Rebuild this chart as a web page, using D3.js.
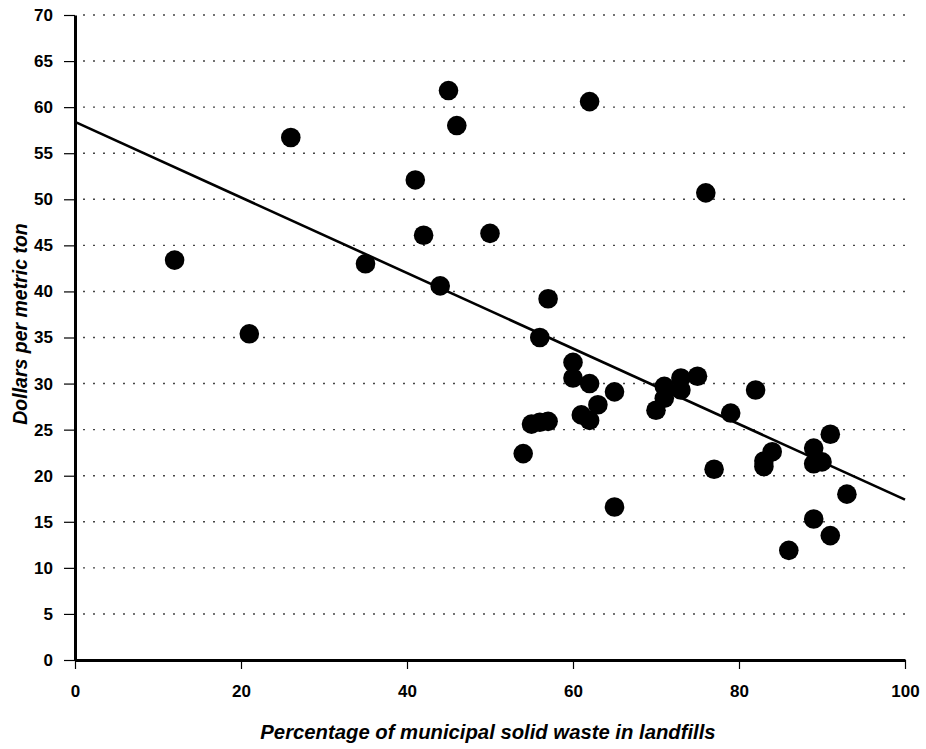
<!DOCTYPE html>
<html>
<head>
<meta charset="utf-8">
<script src="https://cdn.jsdelivr.net/npm/d3@7"></script>
<style>
  html, body { margin: 0; padding: 0; background: #fff; }
  svg { display: block; font-family: "Liberation Sans", Arial, sans-serif; }
</style>
</head>
<body>
<svg id="chart" width="926" height="749"></svg>
<script>
// Data
const landfillPct = [12, 21, 26, 35, 41, 42, 44, 45, 46, 50, 62, 76, 57, 56,
  60, 60, 62, 65, 63, 61, 62, 55, 56, 57, 54, 65,
  71, 73, 73, 71, 70, 75, 82, 79, 77, 84, 83, 83,
  89, 89, 90, 91, 93, 89, 91, 86];
const dollarsPerTon = [43.4, 35.4, 56.7, 43.0, 52.1, 46.1, 40.6, 61.8, 58.0, 46.3, 60.6, 50.7, 39.2, 35.0,
  32.3, 30.6, 30.0, 29.1, 27.7, 26.6, 26.0, 25.6, 25.8, 25.9, 22.4, 16.6,
  29.7, 30.6, 29.3, 28.4, 27.1, 30.8, 29.3, 26.8, 20.7, 22.6, 21.6, 21.0,
  23.0, 21.3, 21.5, 24.5, 18.0, 15.3, 13.5, 11.9];
const trendX = [0, 100];
const trendY = [58.4, 17.4];
const xTicks = [0, 20, 40, 60, 80, 100];
const yTicks = [0, 5, 10, 15, 20, 25, 30, 35, 40, 45, 50, 55, 60, 65, 70];
const xTitle = "Percentage of municipal solid waste in landfills";
const yTitle = "Dollars per metric ton";

const svg = d3.select("#chart");
const mLeft = 75, mRight = 905, mTop = 15, mBottom = 660;

const x = d3.scaleLinear().domain([0, 100]).range([mLeft, mRight]);
const y = d3.scaleLinear().domain([0, 70]).range([mBottom, mTop]);

// gridlines
svg.append("g").selectAll("line")
  .data(yTicks.filter(d => d > 0))
  .enter().append("line")
  .attr("x1", mLeft + 8).attr("x2", mRight)
  .attr("y1", d => y(d)).attr("y2", d => y(d))
  .attr("stroke", "#444").attr("stroke-width", 1.4)
  .attr("stroke-dasharray", "2,8");

// y axis
const yAxis = svg.append("g")
  .attr("transform", `translate(${mLeft},0)`)
  .call(d3.axisLeft(y).tickValues(yTicks).tickSize(11).tickSizeOuter(0).tickPadding(11));
yAxis.select(".domain").attr("stroke", "#000").attr("stroke-width", 3);
yAxis.selectAll(".tick line").attr("stroke", "#000").attr("stroke-width", 1.2);
yAxis.selectAll(".tick text")
  .attr("font-size", 17).attr("font-weight", "bold").attr("fill", "#000");

// x axis
const xAxis = svg.append("g")
  .attr("transform", `translate(0,${mBottom})`)
  .call(d3.axisBottom(x).tickValues(xTicks).tickSize(9).tickSizeOuter(0).tickPadding(16));
xAxis.select(".domain").attr("stroke", "#000").attr("stroke-width", 3);
xAxis.selectAll(".tick line").attr("stroke", "#000").attr("stroke-width", 1.2);
xAxis.selectAll(".tick text")
  .attr("font-size", 17).attr("font-weight", "bold").attr("fill", "#000");

// trend line
const trend = trendX.map((v, i) => [v, trendY[i]]);
svg.append("path")
  .datum(trend)
  .attr("fill", "none")
  .attr("stroke", "#000")
  .attr("stroke-width", 2.6)
  .attr("d", d3.line().x(d => x(d[0])).y(d => y(d[1])));

// points
const pts = landfillPct.map((v, i) => ({ x: v, y: dollarsPerTon[i] }));
svg.append("g").selectAll("circle")
  .data(pts)
  .enter().append("circle")
  .attr("cx", d => x(d.x))
  .attr("cy", d => y(d.y))
  .attr("r", 9.8)
  .attr("fill", "#000");

// titles
svg.append("text")
  .attr("x", 488)
  .attr("y", 739)
  .attr("text-anchor", "middle")
  .attr("font-size", 20.3)
  .attr("font-weight", "bold")
  .attr("font-style", "italic")
  .text(xTitle);

svg.append("text")
  .attr("transform", `translate(27,324) rotate(-90)`)
  .attr("text-anchor", "middle")
  .attr("font-size", 19.5)
  .attr("font-weight", "bold")
  .attr("font-style", "italic")
  .text(yTitle);
</script>
</body>
</html>
